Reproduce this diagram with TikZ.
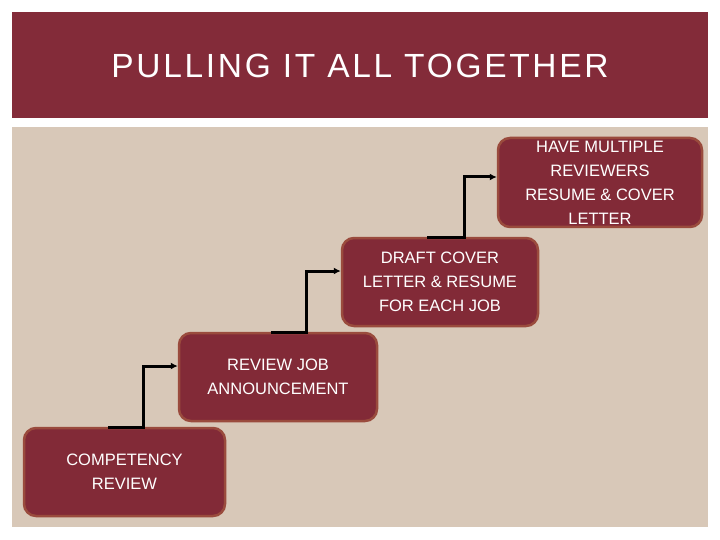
\documentclass[tikz,border=0pt]{standalone}
\usepackage{fontspec}
\setmainfont{Liberation Sans}
\newfontfamily\titlefont[LetterSpace=8]{Liberation Sans}
\usetikzlibrary{arrows.meta}
\definecolor{maroon}{HTML}{832B39}
\definecolor{boxfill}{HTML}{822A37}
\definecolor{boxedge}{HTML}{9A4B3D}
\definecolor{beige}{HTML}{D8C8B8}
\tikzset{
  stepbox/.style={draw=boxedge, line width=2.5pt, fill=boxfill, rounded corners=12pt,
    text=white, align=center, font=\fontsize{16.5}{24}\selectfont, inner sep=0pt},
  conn/.style={line width=3pt, -{Latex[length=7pt,width=7pt]}, black}
}
\begin{document}
\begin{tikzpicture}[x=1pt,y=-1pt]
\useasboundingbox (0,0) rectangle (720,540);
\fill[white] (0,0) rectangle (720,540);
\fill[maroon] (12,12) rectangle (708,118);
\node[text=white, font=\titlefont\fontsize{33.5}{40}\selectfont] (title) at (360,66) {PULLING IT ALL TOGETHER};
\fill[beige] (12,127) rectangle (708,527);
\node[stepbox, minimum width=201pt, minimum height=88pt] (b1) at (124.5,472) {COMPETENCY\\REVIEW};
\node[stepbox, minimum width=198pt, minimum height=88pt] (b2) at (278,377) {REVIEW JOB\\ANNOUNCEMENT};
\node[stepbox, minimum width=196pt, minimum height=88pt] (b3) at (440,282) {DRAFT COVER\\LETTER \& RESUME\\FOR EACH JOB};
\node[stepbox, minimum width=204pt, minimum height=89pt] (b4) at (600,182.5) {HAVE MULTIPLE\\REVIEWERS\\RESUME \& COVER\\LETTER};
\coordinate (s1) at (108,427);
\coordinate (s2) at (271,332);
\coordinate (s3) at (427,237);
\draw[conn] (s1) -- (143,427) |- (b2.west |- 0,366) ;
\draw[conn] (s2) -- (306,332) |- (b3.west |- 0,271);
\draw[conn] (s3) -- (464,237) |- (b4.west |- 0,177);
\end{tikzpicture}
\end{document}
